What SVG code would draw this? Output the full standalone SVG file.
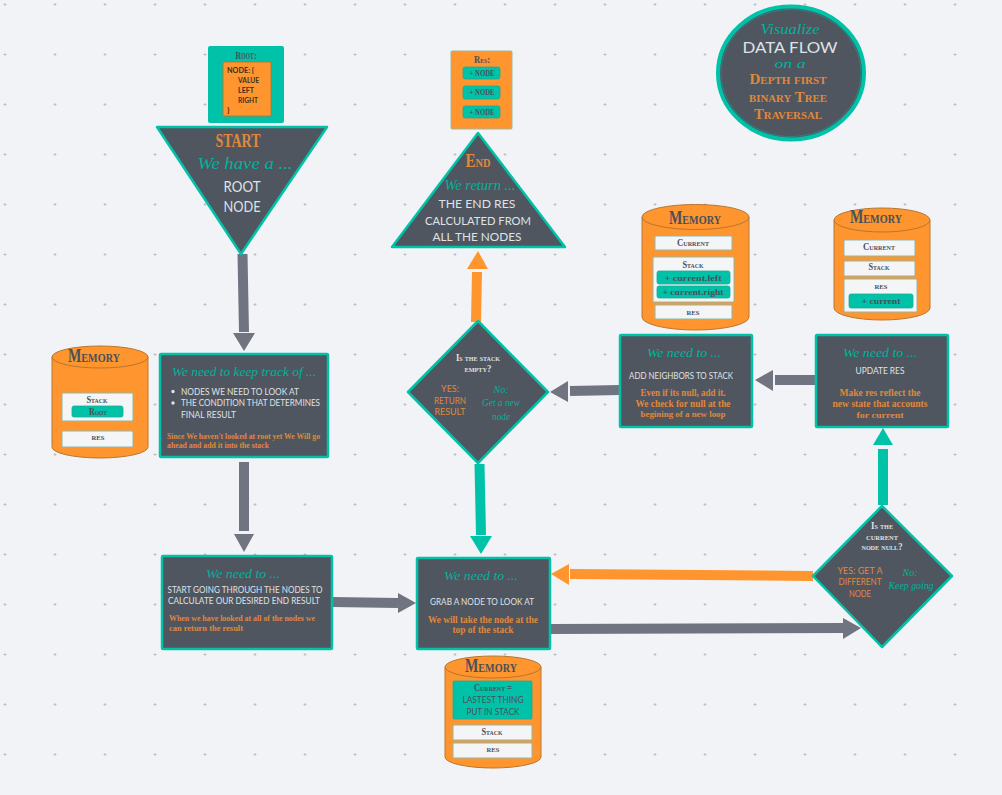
<svg xmlns="http://www.w3.org/2000/svg" width="1002" height="795" viewBox="0 0 1002 795">
<defs>
<pattern id="grid" x="0" y="0" width="50" height="50" patternUnits="userSpaceOnUse"><path d="M3.5 4.5H6.500M5 3V6" stroke="#b4b8bd" stroke-width="0.8" fill="none"/></pattern>
</defs>
<style>
.dark{fill:#4f5660;stroke:#00c2a8;stroke-width:2.5;stroke-linejoin:round}
.org{fill:#ff952e;stroke:#b8772f;stroke-width:1}
.wht{fill:#f4f5f7;stroke:#8fb8a8;stroke-width:1}
.tl{fill:#00c2a8;stroke:#21a896;stroke-width:.8}
text{text-anchor:middle}
.h{font-family:"Liberation Serif",serif;font-weight:bold}
.sc{font-variant:small-caps}
.s{font-family:"Liberation Serif",serif;font-style:italic;fill:#00b39c}
.b{font-family:"Lato","Liberation Sans",sans-serif;fill:#dfe2e6}
.w{fill:#dfe2e6}
.o{fill:#e0883a}
.d{fill:#4a505a}
.m{fill:#3a3020;font-family:"Lato","Liberation Sans",sans-serif;font-size:8px;font-weight:700;text-anchor:start}
.st{text-anchor:start}
</style>
<rect width="1002" height="795" fill="#f2f3f6"/>
<rect width="1002" height="795" fill="url(#grid)"/>
<g id="connectors">
<path d="M242.500 254L244 332" stroke="#6f7480" stroke-width="10" fill="none"/><polygon points="233,333 255,333 244,351" fill="#6f7480"/>
<path d="M244 462V531" stroke="#6f7480" stroke-width="10" fill="none"/><polygon points="234,534 254,534 244,552" fill="#6f7480"/>
<path d="M333 602L398 603" stroke="#6f7480" stroke-width="10" fill="none"/><polygon points="398,593 416,603 398,613" fill="#6f7480"/>
<path d="M479.500 464L481 535" stroke="#00c2a8" stroke-width="10" fill="none"/><polygon points="470,536 492,536 481,554" fill="#00c2a8"/>
<path d="M476 322L477 272" stroke="#ff952e" stroke-width="10" fill="none"/><polygon points="467,269 488,269 478,251" fill="#ff952e"/>
<path d="M620 390L570 391" stroke="#6f7480" stroke-width="10" fill="none"/><polygon points="568,381 568,402 550,392" fill="#6f7480"/>
<path d="M816 380H775" stroke="#6f7480" stroke-width="10" fill="none"/><polygon points="773,370 773,391 755,380" fill="#6f7480"/>
<path d="M883 505V449" stroke="#00c2a8" stroke-width="10" fill="none"/><polygon points="873,445 893,445 883,428" fill="#00c2a8"/>
<path d="M813 576L570 574" stroke="#ff952e" stroke-width="10" fill="none"/><polygon points="569,564 569,585 551,574" fill="#ff952e"/>
<path d="M550 629L843 628" stroke="#6f7480" stroke-width="10" fill="none"/><polygon points="843,618 843,639 861,628" fill="#6f7480"/>
</g>
<g id="root-data">
<rect x="208" y="46" width="76" height="77" rx="2" fill="#00c2a8"/>
<text x="246" y="59" font-size="11" class="h sc d" textLength="21" lengthAdjust="spacingAndGlyphs">Root:</text>
<rect x="223" y="62" width="48" height="54" rx="1" class="org"/>
<text x="227" y="73" class="m" textLength="27" lengthAdjust="spacingAndGlyphs">NODE: {</text>
<text x="238" y="83" class="m" textLength="21" lengthAdjust="spacingAndGlyphs">VALUE</text>
<text x="238" y="93" class="m" textLength="16" lengthAdjust="spacingAndGlyphs">LEFT</text>
<text x="238" y="103" class="m" textLength="20" lengthAdjust="spacingAndGlyphs">RIGHT</text>
<text x="227" y="113" class="m">}</text>
</g>
<g id="start">
<polygon points="157,127 327,127 241,254" class="dark"/>
<text x="238" y="147" font-size="18" class="h o" textLength="45" lengthAdjust="spacingAndGlyphs">START</text>
<text x="245" y="169" font-size="16" class="s" textLength="95" lengthAdjust="spacingAndGlyphs">We have a ...</text>
<text x="242" y="192" font-size="15" class="b" textLength="37" lengthAdjust="spacingAndGlyphs">ROOT</text>
<text x="242" y="212" font-size="15" class="b" textLength="37" lengthAdjust="spacingAndGlyphs">NODE</text>
</g>
<g id="memory-left">
<path d="M52 357V447A48 11 0 0 0 148 447V357Z" class="org"/>
<ellipse cx="100" cy="357" rx="48" ry="11" class="org"/>
<text x="94" y="362" font-size="18" class="h sc d" textLength="52" lengthAdjust="spacingAndGlyphs">Memory</text>
<rect x="62" y="393" width="71" height="28" rx="1" class="wht"/>
<text x="97" y="403" font-size="10" class="h sc d" textLength="21" lengthAdjust="spacingAndGlyphs">Stack</text>
<rect x="72" y="406" width="51" height="11" rx="2" class="tl"/>
<text x="98" y="415" font-size="10" class="h sc d" textLength="18" lengthAdjust="spacingAndGlyphs">Root</text>
<rect x="62" y="431" width="71" height="16" rx="1" class="wht"/>
<text x="98" y="440" font-size="9" class="h sc d" textLength="13" lengthAdjust="spacingAndGlyphs">res</text>
</g>
<g id="track">
<rect x="160" y="354" width="168" height="103" rx="1" class="dark"/>
<text x="244" y="376" font-size="13" class="s" textLength="144" lengthAdjust="spacingAndGlyphs">We need to keep track of ...</text>
<circle cx="173" cy="391.500" r="1.700" fill="#dfe2e6"/><circle cx="173" cy="403" r="1.700" fill="#dfe2e6"/>
<text x="181" y="395" font-size="10" class="b st" textLength="118" lengthAdjust="spacingAndGlyphs">NODES WE NEED TO LOOK AT</text>
<text x="181" y="406" font-size="10" class="b st" textLength="139" lengthAdjust="spacingAndGlyphs">THE CONDITION THAT DETERMINES</text>
<text x="181" y="418" font-size="10" class="b st" textLength="55" lengthAdjust="spacingAndGlyphs">FINAL RESULT</text>
<text x="167" y="439" font-size="8.500" class="h o st" textLength="153" lengthAdjust="spacingAndGlyphs">Since We haven't looked at root yet We Will go</text>
<text x="167" y="448" font-size="8.500" class="h o st" textLength="102" lengthAdjust="spacingAndGlyphs">ahead and add it into the stack</text>
</g>
<g id="start-going">
<rect x="162" y="556" width="170" height="93" rx="1" class="dark"/>
<text x="243" y="578" font-size="13" class="s" textLength="74" lengthAdjust="spacingAndGlyphs">We need to ...</text>
<text x="245" y="593" font-size="10" class="b" textLength="155" lengthAdjust="spacingAndGlyphs">START GOING THROUGH THE NODES TO</text>
<text x="244" y="604" font-size="10" class="b" textLength="152" lengthAdjust="spacingAndGlyphs">CALCULATE OUR DESIRED END RESULT</text>
<text x="242" y="621" font-size="8.500" class="h o" textLength="146" lengthAdjust="spacingAndGlyphs">When we have looked at all of the nodes we</text>
<text x="206" y="631" font-size="8.500" class="h o" textLength="74" lengthAdjust="spacingAndGlyphs">can return the result</text>
</g>
<g id="grab">
<rect x="417" y="558" width="133" height="91" rx="1" class="dark"/>
<text x="481" y="580" font-size="13" class="s" textLength="74" lengthAdjust="spacingAndGlyphs">We need to ...</text>
<text x="482" y="605" font-size="9.500" class="b" textLength="104" lengthAdjust="spacingAndGlyphs">GRAB A NODE TO LOOK AT</text>
<text x="483" y="623" font-size="9.500" class="h o" textLength="110" lengthAdjust="spacingAndGlyphs">We will take the node at the</text>
<text x="483" y="633" font-size="9.500" class="h o" textLength="61" lengthAdjust="spacingAndGlyphs">top of the stack</text>
</g>
<g id="memory-bottom">
<path d="M445 667V757A48 11 0 0 0 541 757V667Z" class="org"/>
<ellipse cx="493" cy="667" rx="48" ry="11" class="org"/>
<text x="491" y="672" font-size="18" class="h sc d" textLength="52" lengthAdjust="spacingAndGlyphs">Memory</text>
<rect x="453" y="681" width="79" height="38" rx="1" class="tl"/>
<text x="493" y="691" font-size="10" class="h sc d" textLength="38" lengthAdjust="spacingAndGlyphs">Current =</text>
<text x="493" y="703" font-size="9.500" class="b d" textLength="61" lengthAdjust="spacingAndGlyphs">LASTEST THING</text>
<text x="493" y="715" font-size="9.500" class="b d" textLength="53" lengthAdjust="spacingAndGlyphs">PUT IN STACK</text>
<rect x="453" y="725" width="79" height="15" rx="1" class="wht"/>
<text x="492" y="735" font-size="10" class="h sc d" textLength="21" lengthAdjust="spacingAndGlyphs">Stack</text>
<rect x="453" y="743" width="79" height="15" rx="1" class="wht"/>
<text x="493" y="752" font-size="9" class="h sc d" textLength="13" lengthAdjust="spacingAndGlyphs">res</text>
</g>
<g id="stack-empty">
<polygon points="478,321 548,392 478,463 408,392" class="dark"/>
<text x="478" y="361" font-size="10" class="h sc w" textLength="44" lengthAdjust="spacingAndGlyphs">Is the stack</text>
<text x="478" y="372" font-size="10" class="h sc w" textLength="27" lengthAdjust="spacingAndGlyphs">empty?</text>
<text x="450" y="392" font-size="10" class="b o" textLength="18" lengthAdjust="spacingAndGlyphs">YES:</text>
<text x="450" y="404" font-size="10" class="b o" textLength="32" lengthAdjust="spacingAndGlyphs">RETURN</text>
<text x="450" y="415" font-size="10" class="b o" textLength="31" lengthAdjust="spacingAndGlyphs">RESULT</text>
<text x="501" y="393" font-size="11" class="s" textLength="15" lengthAdjust="spacingAndGlyphs">No:</text>
<text x="501" y="406" font-size="11" class="s" textLength="38" lengthAdjust="spacingAndGlyphs">Get a new</text>
<text x="501" y="420" font-size="11" class="s" textLength="18" lengthAdjust="spacingAndGlyphs">node</text>
</g>
<g id="result">
<rect x="451" y="51" width="61" height="78" rx="1" class="org" style="stroke:#9cb89a"/>
<text x="482" y="63" font-size="10.500" class="h sc d" textLength="16" lengthAdjust="spacingAndGlyphs">Res:</text>
<rect x="463" y="67" width="37" height="12" rx="2" class="tl"/>
<text x="482" y="76" font-size="8.500" class="h d" textLength="25" lengthAdjust="spacingAndGlyphs">+ NODE</text>
<rect x="463" y="86" width="37" height="13" rx="2" class="tl"/>
<text x="482" y="95" font-size="8.500" class="h d" textLength="25" lengthAdjust="spacingAndGlyphs">+ NODE</text>
<rect x="463" y="106" width="37" height="12" rx="2" class="tl"/>
<text x="482" y="115" font-size="8.500" class="h d" textLength="25" lengthAdjust="spacingAndGlyphs">+ NODE</text>
</g>
<g id="end">
<polygon points="478,133 565,247 392,247" class="dark"/>
<text x="478" y="167" font-size="19" class="h sc o" textLength="25" lengthAdjust="spacingAndGlyphs">End</text>
<text x="480" y="190" font-size="14" class="s" textLength="71" lengthAdjust="spacingAndGlyphs">We return ...</text>
<text x="477" y="208" font-size="12" class="b" textLength="77" lengthAdjust="spacingAndGlyphs">THE END RES</text>
<text x="478" y="225" font-size="12" class="b" textLength="106" lengthAdjust="spacingAndGlyphs">CALCULATED FROM</text>
<text x="477" y="241" font-size="12" class="b" textLength="89" lengthAdjust="spacingAndGlyphs">ALL THE NODES</text>
</g>
<g id="add-neighbors">
<rect x="620" y="335" width="132" height="92" rx="1" class="dark"/>
<text x="684" y="357" font-size="13" class="s" textLength="74" lengthAdjust="spacingAndGlyphs">We need to ...</text>
<text x="681" y="379" font-size="9.500" class="b" textLength="104" lengthAdjust="spacingAndGlyphs">ADD NEIGHBORS TO STACK</text>
<text x="683" y="396" font-size="9.500" class="h o" textLength="85" lengthAdjust="spacingAndGlyphs">Even if its null, add it.</text>
<text x="683" y="407" font-size="9.500" class="h o" textLength="95" lengthAdjust="spacingAndGlyphs">We check for null at the</text>
<text x="683" y="417" font-size="9" class="h o" textLength="85" lengthAdjust="spacingAndGlyphs">begining of a new loop</text>
</g>
<g id="memory-middle">
<path d="M642 217V317A53.500 13 0 0 0 749 317V217Z" class="org"/>
<ellipse cx="695.500" cy="217" rx="53.500" ry="12.500" class="org"/>
<text x="695" y="224" font-size="18" class="h sc d" textLength="52" lengthAdjust="spacingAndGlyphs">Memory</text>
<rect x="655" y="236" width="77" height="14" rx="1" class="wht"/>
<text x="693" y="246" font-size="10" class="h sc d" textLength="32" lengthAdjust="spacingAndGlyphs">Current</text>
<rect x="653" y="257" width="81" height="45" rx="1" class="wht"/>
<text x="693" y="268" font-size="10" class="h sc d" textLength="21" lengthAdjust="spacingAndGlyphs">Stack</text>
<rect x="657" y="271" width="73" height="13" rx="2" class="tl"/>
<text x="693" y="281" font-size="8.500" class="h d" textLength="57" lengthAdjust="spacingAndGlyphs">+ current.left</text>
<rect x="657" y="286" width="73" height="12" rx="2" class="tl"/>
<text x="693" y="295" font-size="8.500" class="h d" textLength="61" lengthAdjust="spacingAndGlyphs">+ current.right</text>
<rect x="655" y="305" width="77" height="14" rx="1" class="wht"/>
<text x="693" y="315" font-size="9" class="h sc d" textLength="13" lengthAdjust="spacingAndGlyphs">res</text>
</g>
<g id="memory-right">
<path d="M834 220V308A48 12 0 0 0 930 308V220Z" class="org"/>
<ellipse cx="882" cy="220" rx="48" ry="12" class="org"/>
<text x="876" y="223" font-size="18" class="h sc d" textLength="52" lengthAdjust="spacingAndGlyphs">Memory</text>
<rect x="844" y="240" width="71" height="16" rx="1" class="wht"/>
<text x="879" y="250" font-size="10" class="h sc d" textLength="32" lengthAdjust="spacingAndGlyphs">Current</text>
<rect x="844" y="261" width="71" height="15" rx="1" class="wht"/>
<text x="879" y="270" font-size="10" class="h sc d" textLength="21" lengthAdjust="spacingAndGlyphs">Stack</text>
<rect x="844" y="279" width="73" height="33" rx="1" class="wht"/>
<text x="881" y="289" font-size="9" class="h sc d" textLength="13" lengthAdjust="spacingAndGlyphs">res</text>
<rect x="849" y="294" width="64" height="14" rx="2" class="tl"/>
<text x="881" y="304" font-size="8.500" class="h d" textLength="39" lengthAdjust="spacingAndGlyphs">+ current</text>
</g>
<g id="update-res">
<rect x="816" y="335" width="132" height="92" rx="1" class="dark"/>
<text x="880" y="357" font-size="13" class="s" textLength="74" lengthAdjust="spacingAndGlyphs">We need to ...</text>
<text x="880" y="374" font-size="9.500" class="b" textLength="49" lengthAdjust="spacingAndGlyphs">UPDATE RES</text>
<text x="880" y="396" font-size="9.500" class="h o" textLength="81" lengthAdjust="spacingAndGlyphs">Make res reflect the</text>
<text x="880" y="407" font-size="9.500" class="h o" textLength="95" lengthAdjust="spacingAndGlyphs">new state  that accounts</text>
<text x="880" y="418" font-size="9" class="h o" textLength="47" lengthAdjust="spacingAndGlyphs">for current</text>
</g>
<g id="node-null">
<polygon points="882,506 952,576 882,647 813,576" class="dark"/>
<text x="882" y="529" font-size="10" class="h sc w" textLength="22" lengthAdjust="spacingAndGlyphs">Is the</text>
<text x="882" y="540" font-size="10" class="h sc w" textLength="32" lengthAdjust="spacingAndGlyphs">current</text>
<text x="882" y="550" font-size="10" class="h sc w" textLength="41" lengthAdjust="spacingAndGlyphs">node null?</text>
<text x="860" y="574" font-size="10" class="b o" textLength="45" lengthAdjust="spacingAndGlyphs">YES: GET A</text>
<text x="860" y="585" font-size="10" class="b o" textLength="43" lengthAdjust="spacingAndGlyphs">DIFFERENT</text>
<text x="860" y="597" font-size="10" class="b o" textLength="22" lengthAdjust="spacingAndGlyphs">NODE</text>
<text x="910" y="576" font-size="11" class="s" textLength="15" lengthAdjust="spacingAndGlyphs">No:</text>
<text x="911" y="589" font-size="11" class="s" textLength="45" lengthAdjust="spacingAndGlyphs">Keep going</text>
</g>
<g id="title">
<ellipse cx="791" cy="73" rx="73" ry="66.500" fill="#4f5660" stroke="#00c2a8" stroke-width="4"/>
<ellipse cx="791" cy="73" rx="70" ry="63.500" fill="none" stroke="#00b39c" stroke-width=".5"/>
<text x="790" y="34" font-size="15" class="s" textLength="59" lengthAdjust="spacingAndGlyphs">Visualize</text>
<text x="790" y="53" font-size="15.500" class="b" textLength="95" lengthAdjust="spacingAndGlyphs">DATA FLOW</text>
<text x="790" y="68" font-size="12" class="s" textLength="31" lengthAdjust="spacingAndGlyphs">on a</text>
<text x="788" y="84" font-size="15" class="h sc o" textLength="77" lengthAdjust="spacingAndGlyphs">Depth first</text>
<text x="788" y="101.500" font-size="15" class="h sc o" textLength="78" lengthAdjust="spacingAndGlyphs">binary Tree</text>
<text x="788" y="119" font-size="15" class="h sc o" textLength="68" lengthAdjust="spacingAndGlyphs">Traversal</text>
</g>
</svg>
